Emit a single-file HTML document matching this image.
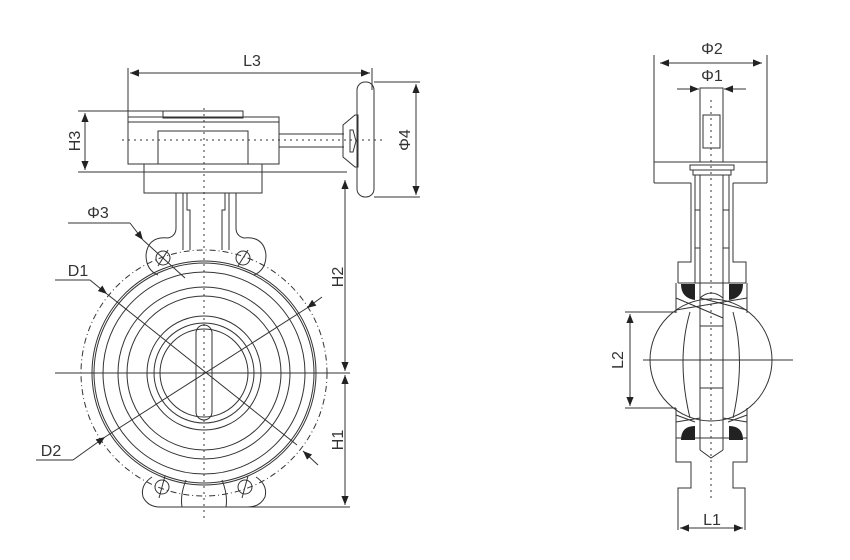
<!DOCTYPE html>
<html><head><meta charset="utf-8"><style>
html,body{margin:0;padding:0;background:#fff;}
svg{display:block;}
text{font-family:"Liberation Sans",sans-serif;font-size:16px;fill:#333;}
</style></head><body>
<svg width="850" height="560" viewBox="0 0 850 560" xmlns="http://www.w3.org/2000/svg">
<defs>
<marker id="a" viewBox="0 0 10 10" refX="10" refY="5" markerWidth="9" markerHeight="9" orient="auto-start-reverse" markerUnits="userSpaceOnUse"><path d="M0,1 L10,5 L0,9 z" fill="#222"/></marker>
</defs>
<g stroke="#333" stroke-width="1" fill="none">
<line x1="128" y1="68" x2="128" y2="117"/><line x1="372" y1="68" x2="372" y2="90"/>
<line x1="130" y1="73" x2="370" y2="73" marker-start="url(#a)" marker-end="url(#a)"/>
<rect x="163" y="111" width="80" height="7"/>
<rect x="128" y="117" width="151" height="47"/>
<line x1="128" y1="122" x2="279" y2="122"/>
<rect x="158" y="131" width="90" height="33"/>
<rect x="144" y="164" width="118" height="29"/>
<line x1="78" y1="111" x2="163" y2="111"/><line x1="78" y1="172" x2="347" y2="172"/>
<line x1="85" y1="113" x2="85" y2="170" marker-start="url(#a)" marker-end="url(#a)"/>
<line x1="279" y1="134" x2="344" y2="134"/><line x1="279" y1="147" x2="344" y2="147"/>
<path d="M343,125 L355,115 L358,115 L358,167 L355,167 L343,157 Z"/>
<path d="M350,130 L353,130 L356,141 L353,152 L350,152 Z"/>
<rect x="357" y="82" width="17" height="115" rx="8"/>
<line x1="374" y1="82" x2="420" y2="82"/><line x1="374" y1="197" x2="420" y2="197"/>
<line x1="416" y1="84" x2="416" y2="195" marker-start="url(#a)" marker-end="url(#a)"/>
<path d="M176,193 L176,228 Q176,236 168,238"/><path d="M236,193 L236,228 Q236,236 244,238"/>
<path d="M183,193 L183,250"/><path d="M229,193 L229,250"/>
<path d="M187,193 L187,210 L190,210 L190,250"/><path d="M225,193 L225,210 L222,210 L222,250"/>
<path d="M168,238 Q148,236 146,255 Q146,270 158,275"/>
<path d="M244,238 Q264,236 266,255 Q266,270 254,275"/>
<circle cx="163" cy="258" r="7"/><circle cx="243" cy="258" r="7"/>
<line x1="158" y1="266" x2="168" y2="250"/><line x1="238" y1="266" x2="248" y2="250"/>
<circle cx="204" cy="373" r="123" stroke-dasharray="6,3,1,3"/>
<circle cx="204" cy="373" r="112"/>
<circle cx="204" cy="373" r="110"/>
<circle cx="204" cy="373" r="101"/>
<circle cx="204" cy="373" r="86"/>
<circle cx="204" cy="373" r="77"/>
<circle cx="204" cy="373" r="57"/>
<circle cx="204" cy="373" r="50"/>
<circle cx="204" cy="373" r="44"/>
<rect x="196" y="325" width="16" height="95" rx="8"/>
<path d="M152,477 Q140,485 143,497 Q148,507 160,507 L182,507 Q180,495 186,480"/>
<path d="M256,477 Q268,485 265,497 Q260,507 248,507 L226,507 Q228,495 222,480"/>
<circle cx="162" cy="487" r="7"/><circle cx="245" cy="487" r="7"/>
<line x1="159" y1="498" x2="165" y2="476"/><line x1="242" y1="498" x2="248" y2="476"/>
<line x1="158" y1="507" x2="350" y2="507"/>
<line x1="55" y1="373" x2="350" y2="373"/>
<line x1="204" y1="108" x2="204" y2="522" stroke-dasharray="2,4"/>
<line x1="122" y1="140" x2="385" y2="140" stroke-dasharray="2,4"/>
<line x1="345" y1="180" x2="345" y2="371" marker-start="url(#a)" marker-end="url(#a)"/>
<line x1="345" y1="375" x2="345" y2="505" marker-start="url(#a)" marker-end="url(#a)"/>
<line x1="68" y1="223" x2="130" y2="223"/><line x1="130" y1="223" x2="143" y2="240" marker-end="url(#a)"/><line x1="143" y1="240" x2="185" y2="278"/>
<line x1="55" y1="280" x2="90" y2="280"/><line x1="90" y1="280" x2="107" y2="294" marker-end="url(#a)"/><line x1="107" y1="294" x2="297" y2="445"/>
<line x1="36" y1="460" x2="73" y2="460"/><line x1="73" y1="460" x2="105" y2="437" marker-end="url(#a)"/><line x1="105" y1="437" x2="307" y2="308"/>
<line x1="322" y1="297" x2="307" y2="308" marker-end="url(#a)"/>
<line x1="318" y1="465" x2="303" y2="451" marker-end="url(#a)"/>

<line x1="654" y1="55" x2="654" y2="183"/><line x1="767" y1="55" x2="767" y2="183"/>
<line x1="654" y1="162" x2="767" y2="162"/>
<line x1="654" y1="183" x2="691" y2="183"/><line x1="733" y1="183" x2="767" y2="183"/>
<line x1="660" y1="63" x2="762" y2="63" marker-start="url(#a)" marker-end="url(#a)"/>
<line x1="677" y1="89" x2="699" y2="89" marker-end="url(#a)"/>
<line x1="746" y1="89" x2="724" y2="89" marker-end="url(#a)"/>
<rect x="700" y="88" width="23" height="74"/>
<rect x="703" y="115" width="17" height="33"/>
<rect x="690" y="165" width="44" height="5"/>
<rect x="693" y="170" width="38" height="5"/>
<path d="M691,183 L691,262 L678,262 L678,283"/><path d="M733,183 L733,262 L746,262 L746,283"/>
<line x1="695" y1="175" x2="695" y2="283"/><line x1="729" y1="175" x2="729" y2="283"/>
<line x1="700" y1="175" x2="700" y2="450"/><line x1="723" y1="175" x2="723" y2="450"/>
<path d="M700,450 L711,458 L723,450"/>
<line x1="695" y1="210" x2="700" y2="210"/><line x1="723" y1="210" x2="729" y2="210"/>
<line x1="695" y1="248" x2="700" y2="248"/><line x1="723" y1="248" x2="729" y2="248"/>
<path d="M678,283 L746,283"/>
<path d="M676,283 L676,313"/><path d="M747,283 L747,313"/>
<path d="M676,408 L676,462 L691,462 L691,488 L678,488 L678,530"/>
<path d="M747,408 L747,462 L733,462 L733,488 L745,488 L745,530"/>
<line x1="676" y1="438" x2="747" y2="438"/>
<circle cx="711" cy="360" r="61"/>
<path d="M690,312 Q676,360 690,418"/><path d="M733,312 Q746,360 733,418"/>
<path d="M676,298 L723,318"/><path d="M676,310 L747,298"/><path d="M747,310 L700,298"/>
<path d="M700,298 Q711,288 723,298"/>
<path d="M676,422 L700,418 M747,422 L723,418 M676,415 L695,422 M747,415 L728,422"/>
<line x1="700" y1="326" x2="723" y2="326"/><line x1="700" y1="388" x2="723" y2="388"/>
<line x1="711" y1="100" x2="711" y2="500" stroke-dasharray="2,4"/>
<line x1="643" y1="360" x2="793" y2="360"/>
<line x1="625" y1="312" x2="676" y2="312"/><line x1="625" y1="408" x2="676" y2="408"/>
<line x1="630" y1="314" x2="630" y2="406" marker-start="url(#a)" marker-end="url(#a)"/>
<line x1="680" y1="528" x2="743" y2="528" marker-start="url(#a)" marker-end="url(#a)"/>
</g>
<g fill="#222">
<path d="M681,284 L695,284 L695,300 Q681,298 681,284 Z"/>
<path d="M743,284 L729,284 L729,300 Q743,298 743,284 Z"/>
<path d="M681,440 L695,440 L695,426 Q681,426 681,440 Z"/>
<path d="M743,440 L729,440 L729,426 Q743,426 743,440 Z"/>
</g>
<text x="252" y="66" text-anchor="middle">L3</text>
<text transform="translate(80,141) rotate(-90)" text-anchor="middle">H3</text>
<text transform="translate(410,140) rotate(-90)" text-anchor="middle">Φ4</text>
<text transform="translate(343,277) rotate(-90)" text-anchor="middle">H2</text>
<text transform="translate(343,440) rotate(-90)" text-anchor="middle">H1</text>
<text x="98" y="218" text-anchor="middle">Φ3</text>
<text x="78" y="276" text-anchor="middle">D1</text>
<text x="51" y="456" text-anchor="middle">D2</text>
<text x="712" y="54" text-anchor="middle">Φ2</text>
<text x="712" y="81" text-anchor="middle">Φ1</text>
<text transform="translate(623,360) rotate(-90)" text-anchor="middle">L2</text>
<text x="712" y="525" text-anchor="middle">L1</text>
</svg>
</body></html>
